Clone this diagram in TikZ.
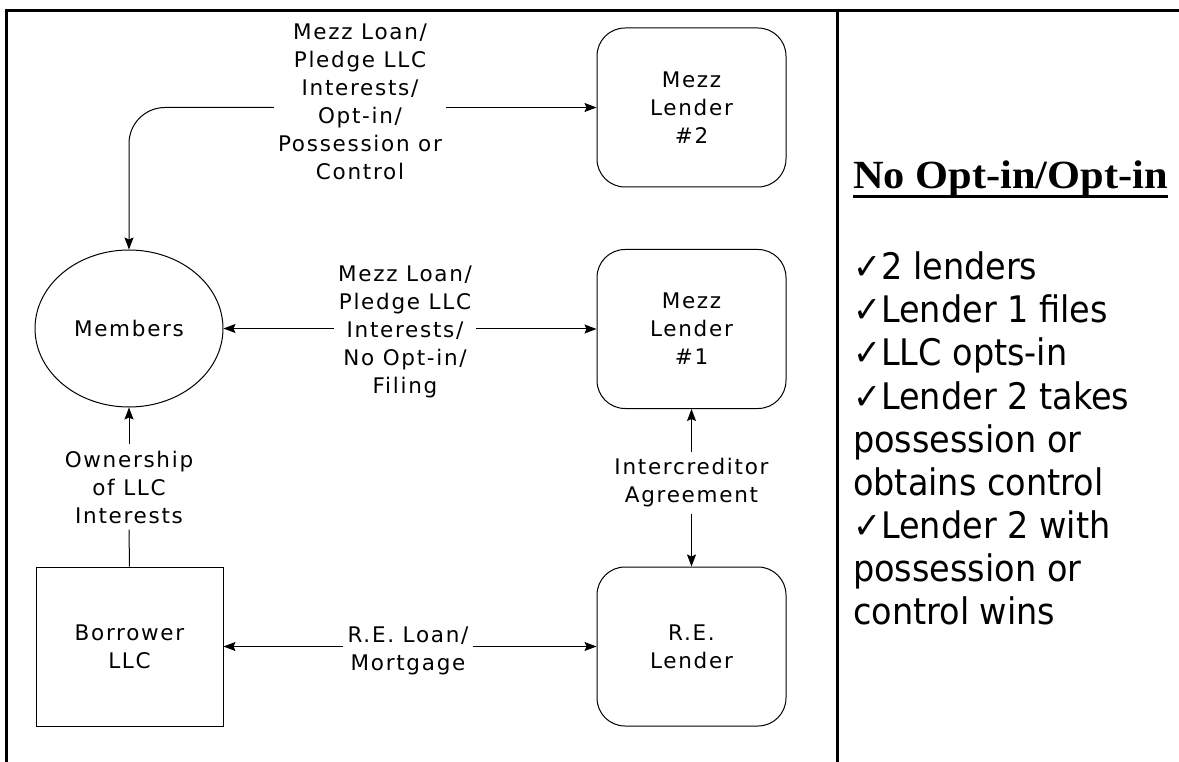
\documentclass[tikz,border=0pt]{standalone}
\usepackage{fontspec}
\usetikzlibrary{arrows.meta,shapes.geometric}
\newfontfamily\labfont[LetterSpace=8]{DejaVu Sans}
\newfontfamily\sidefont[FakeStretch=0.915]{DejaVu Sans}
\newfontfamily\titlefont[FakeStretch=1.06]{Liberation Serif}
\tikzset{
  lab/.style={font=\labfont\fontsize{21.5}{28}\selectfont, align=center, inner xsep=4pt, inner ysep=3pt},
  rbox/.style={lab, draw, line width=1pt, rounded corners=28pt, minimum width=189pt, minimum height=159pt},
  sqbox/.style={lab, draw, line width=1pt, minimum width=187pt, minimum height=159pt},
  oval/.style={lab, draw, line width=1pt, ellipse, inner sep=0pt, minimum width=188pt, minimum height=157pt},
  arr/.style={-{Stealth[length=12pt,width=9pt,inset=2pt]}, line width=1pt},
  link/.style={line width=1pt},
  frame/.style={line width=2.7pt},
  side/.style={font=\sidefont\fontsize{36.6}{43}\selectfont, anchor=base west, inner sep=0pt},
}
\begin{document}
\begin{tikzpicture}[x=1pt,y=-1pt]
\useasboundingbox (0,0) rectangle (1179,762);
% table frame
\coordinate (ftl) at (6.3,10.7);
\coordinate (ftr) at (1179,10.7);
\coordinate (fbl) at (6.3,762);
\coordinate (dtop) at (837.5,10.7);
\coordinate (dbot) at (837.5,762);
\draw[frame] (fbl) -- (ftl) -- (ftr);
\draw[frame] (dtop) -- (dbot);

% nodes
\node[rbox] (mezz2) at (691.5,107.5) {Mezz\\Lender\\\#2};
\node[rbox] (mezz1) at (691.5,329) {Mezz\\Lender\\\#1};
\node[rbox] (relender) at (691.5,646.5) {R.E.\\Lender};
\node[oval] (members) at (129,328.5) {Members};
\node[sqbox] (borrower) at (129.5,646.5) {Borrower\\LLC};

% labels
\node[lab] (lab1) at (360,102) {Mezz Loan/\\Pledge LLC\\Interests/\\Opt-in/\\Possession or\\Control};
\node[lab] (lab2) at (405,331.5) {Mezz Loan/\\Pledge LLC\\Interests/\\No Opt-in/\\Filing};
\node[lab, inner ysep=6pt] (lab3) at (129,487) {Ownership\\of LLC\\Interests};
\node[lab, inner ysep=6pt] (lab4) at (691.5,483) {Intercreditor\\Agreement};
\node[lab] (lab5) at (408,651) {R.E. Loan/\\Mortgage};

% connectors
\draw[arr] (lab1.east |- mezz2.west) -- (mezz2.west);
\draw[arr, rounded corners=36pt] (lab1.west |- mezz2.west) -| (members.north);
\draw[arr] (lab2.east |- mezz1.west) -- (mezz1.west);
\draw[arr] (lab2.west |- members.east) -- (members.east);
\draw[arr] (lab3.north) -- (members.south);
\draw[link] (lab3.south) -- (borrower.north);
\draw[arr] (lab4.north) -- (mezz1.south);
\draw[arr] (lab4.south) -- (relender.north);
\draw[arr] (lab5.east |- relender.west) -- (relender.west);
\draw[arr] (lab5.west |- borrower.east) -- (borrower.east);

% right panel
\node[anchor=base west, inner sep=0pt, font=\titlefont\bfseries\fontsize{40}{48}\selectfont] (title) at (853,189) {No Opt-in/Opt-in};
\draw[line width=3pt] ([yshift=-8pt]title.base west) -- ([yshift=-8pt]title.base east);
\node[side] (r1) at (853,280) {✓2 lenders};
\node[side] (r2) at (853,323) {✓Lender 1 files};
\node[side] (r3) at (853,366) {✓LLC opts-in};
\node[side] (r4) at (853,409) {✓Lender 2 takes};
\node[side] (r5) at (853,452) {possession or};
\node[side] (r6) at (853,495) {obtains control};
\node[side] (r7) at (853,538) {✓Lender 2 with};
\node[side] (r8) at (853,581) {possession or};
\node[side] (r9) at (853,624) {control wins};
\end{tikzpicture}
\end{document}
